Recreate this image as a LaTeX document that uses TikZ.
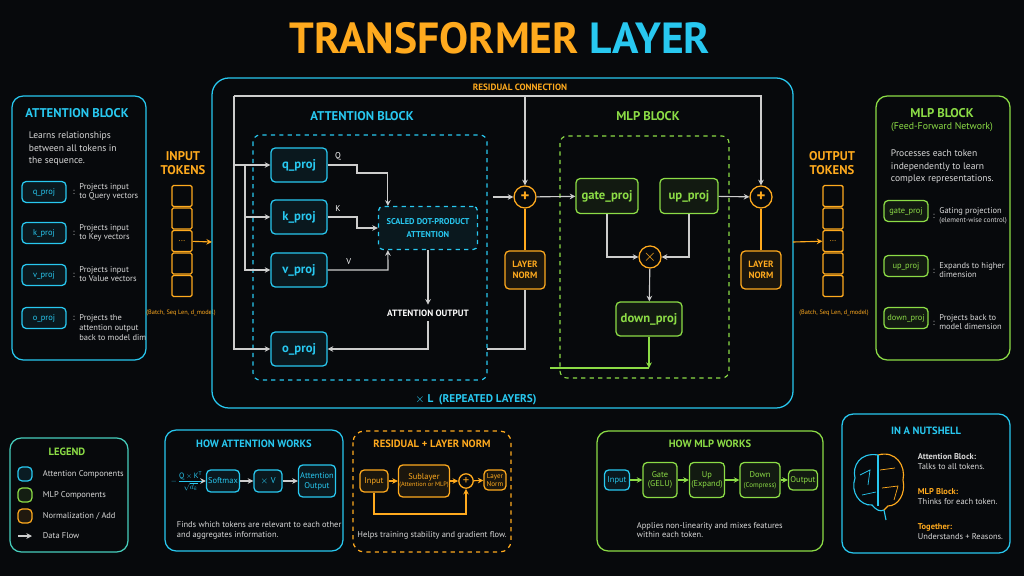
\documentclass[tikz,border=0pt]{standalone}
\usepackage{fontspec}
\setmainfont{PT Sans}
\usetikzlibrary{arrows.meta,positioning,calc}
\tikzset{
    sz/.style 2 args={minimum width=#1*0.025cm, minimum height=#2*0.025cm, inner sep=0pt},
    box/.style={draw, rounded corners=3pt, line width=0.9pt, align=center},
    attn/.style={box, draw=cyanc, text=cyanc, fill=cyanc!8!bgc},
    mlp/.style={box, draw=greenc, text=greenc, fill=greenc!8!bgc},
    norm/.style={box, draw=orangec, text=orangec, fill=orangec!8!bgc},
    panel/.style={draw, rounded corners=8pt, line width=0.9pt},
    flow/.style={-{Stealth[length=4pt,width=4pt]}, draw=linec, line width=0.8pt},
    line/.style={draw=linec, line width=0.8pt},
    title/.style={font=\bfseries\fontsize{9}{10}\selectfont},
    txt/.style={text=white!85!black, font=\fontsize{6.8}{8.8}\selectfont, align=left},
    small/.style={font=\fontsize{6}{7}\selectfont},
    plus/.style={circle, draw=orangec, text=orangec, line width=0.9pt, minimum size=0.55cm, inner sep=0pt, font=\bfseries\large}
}
\begin{document}
\begin{tikzpicture}[x=0.025cm,y=-0.025cm]

  % Define colors
  \definecolor{bgc}{RGB}{7,9,12}
  \definecolor{cyanc}{RGB}{40,200,240}
  \definecolor{greenc}{RGB}{140,220,70}
  \definecolor{orangec}{RGB}{255,170,30}
  \definecolor{linec}{RGB}{205,205,205}

  % Background
  \fill[bgc] (0,0) rectangle (1024,576);
  \useasboundingbox (0,0) rectangle (1024,576);

  % Title
  \node[font=\bfseries\fontsize{31}{36}\selectfont] (title) at (500,38)
    {\textcolor{orangec}{TRANSFORMER} \textcolor{cyanc}{LAYER}};

  % Left panel: attention block
  \draw[panel, cyanc] (12,96) rectangle (146,360);
  \node[title, text=cyanc] (lat) at (77,113) {ATTENTION BLOCK};
  \node[txt, anchor=north west] (ldesc) at (24,127) {Learns relationships\\between all tokens in\\the sequence.};
  \foreach \nm/\y/\ta/\tb in {q\_proj/192/Projects input/to Query vectors,
                               k\_proj/233/Projects input/to Key vectors,
                               v\_proj/275/Projects input/to Value vectors} {
    \node[attn, sz={44}{21}, small] (l\y) at (44,\y) {\nm};
    \node[txt, small, anchor=west] (lt\y) at (68,\y) {:\ \ \begin{tabular}[c]{@{}l@{}}\ta\\\tb\end{tabular}};
  }
  \node[attn, sz={44}{21}, small] (lo) at (44,318) {o\_proj};
  \node[txt, small, anchor=north west] (lot) at (68,309) {:\ \ \begin{tabular}[t]{@{}l@{}}Projects the\\attention output\\back to model dim\end{tabular}};

  % Input tokens
  \node[title, text=orangec, align=center] (inl) at (183,163) {INPUT\\TOKENS};
  \foreach \i in {0,...,4} {
    \node[norm, fill=bgc, rounded corners=1pt, sz={20}{21}] (in\i) at (182,196+\i*22.5) {};
  }
  \node[text=orangec, small] at (in2) {...};
  \node[text=orangec, font=\fontsize{4.5}{5}\selectfont] (inshape) at (181,313) {(Batch, Seq Len, d\_model)};

  % Main transformer layer
  \draw[panel, cyanc, rounded corners=12pt] (212,78) rectangle (793,408);
  \node[title, text=orangec, font=\bfseries\fontsize{6.5}{7}\selectfont] (resl) at (520,87) {RESIDUAL CONNECTION};
  \node[title, text=cyanc] (atitle) at (362,116) {ATTENTION BLOCK};
  \node[title, text=greenc] (mtitle) at (648,116) {MLP BLOCK};
  \draw[cyanc, dashed, line width=0.8pt, rounded corners=5pt] (253,135) rectangle (487,380);
  \draw[greenc, dashed, line width=0.8pt, rounded corners=5pt] (560,136) rectangle (729,378);
  \node[title, text=cyanc, font=\bfseries\fontsize{8}{9}\selectfont] (rep) at (476,400) {$\times$ L \ (REPEATED LAYERS)};

  % Attention nodes
  \node[attn, sz={56}{34}, font=\bfseries\small] (qproj) at (299,165) {q\_proj};
  \node[attn, sz={56}{34}, font=\bfseries\small] (kproj) at (299,217) {k\_proj};
  \node[attn, sz={56}{34}, font=\bfseries\small] (vproj) at (299,270) {v\_proj};
  \node[attn, sz={56}{34}, font=\bfseries\small] (oproj) at (299,349) {o\_proj};
  \node[attn, dashed, sz={99}{43}, font=\bfseries\fontsize{6}{9}\selectfont] (sdpa) at (428,228) {SCALED DOT-PRODUCT\\ATTENTION};
  \node[text=white, font=\bfseries\fontsize{6.5}{7}\selectfont] (aout) at (428,313) {ATTENTION OUTPUT};

  % MLP nodes
  \node[mlp, sz={62}{35}, font=\bfseries\small] (gate) at (607,196) {gate\_proj};
  \node[mlp, sz={58}{35}, font=\bfseries\small] (up) at (689,196) {up\_proj};
  \node[plus, minimum size=0.55cm, font=\large] (mult) at (650,257) {$\times$};
  \node[mlp, sz={66}{34}, font=\bfseries\small] (down) at (649,319) {down\_proj};

  % Add and norm
  \node[plus] (plusA) at (525,197) {+};
  \node[plus] (plusB) at (761,197) {+};
  \node[norm, sz={40}{38}, font=\bfseries\fontsize{6.5}{8}\selectfont] (ln1) at (525,270) {LAYER\\NORM};
  \node[norm, sz={40}{38}, font=\bfseries\fontsize{6.5}{8}\selectfont] (ln2) at (761,270) {LAYER\\NORM};

  % Residual paths
  \coordinate (resL) at (234,96);
  \coordinate (resM) at (525,96);
  \coordinate (split) at (245,165);
  \draw[flow] (resL) -| (plusB);
  \draw[flow] (resM) -- (plusA);
  \draw[flow] (resL) |- (oproj);
  \draw[flow] (234,165) -- (qproj);
  \draw[flow] (split) |- (kproj);
  \draw[flow] (split) |- (vproj);

  % Attention flow
  \draw[flow] (qproj) -- node[above, text=white, small, pos=0.35] {Q} (357,165) -- (357,173) -| ($(sdpa.north west)+(10,0)$);
  \draw[flow] (kproj) -- node[above, text=white, small, pos=0.35] {K} (357,217) |- (sdpa);
  \draw[flow] (vproj) -- node[above, text=white, small, pos=0.35] {V} (388,270) -- ($(sdpa.south west)+(10,0)$);
  \draw[flow] (sdpa) -- (aout);
  \draw[flow] (aout) |- (oproj);
  \draw[line] (487,349) -| (ln1);
  \draw[line, orangec] (ln1) -- (plusA);
  \draw[flow] (493,197) -- (plusA);

  % MLP flow
  \draw[flow] (plusA) -- (gate);
  \draw[flow] (gate) |- (mult);
  \draw[flow] (up) |- (mult);
  \draw[flow] (mult) -- (down);
  \coordinate (mout) at (649,368);
  \draw[flow, draw=greenc] (down) -- (mout);
  \draw[line, greenc] (mout) -- (550,368);
  \draw[flow] (up) -- (plusB);
  \draw[line, orangec] (ln2) -- (plusB);

  % Input and output arrows
  \draw[flow, draw=orangec] (in2) -- (212,242);
  \node[title, text=orangec, align=center] (outl) at (832,163) {OUTPUT\\TOKENS};
  \foreach \i in {0,...,4} {
    \node[norm, fill=bgc, rounded corners=1pt, sz={20}{21}] (out\i) at (833,196+\i*22.5) {};
  }
  \node[text=orangec, small] at (out2) {...};
  \node[text=orangec, font=\fontsize{4.5}{5}\selectfont] (outshape) at (834,313) {(Batch, Seq Len, d\_model)};
  \draw[flow, draw=orangec] (793,242) -- (out2);

  % Right panel: MLP block
  \draw[panel, greenc] (876,96) rectangle (1010,360);
  \node[title, text=greenc, align=center] (rmt) at (942,120) {MLP BLOCK\\[-1pt]{\mdseries\fontsize{7}{8}\selectfont(Feed-Forward Network)}};
  \node[txt, anchor=north west] (rdesc) at (886,145) {Processes each token\\independently to learn\\complex representations.};
  \node[mlp, sz={44}{21}, small] (rg) at (906,211) {gate\_proj};
  \node[txt, small, anchor=west] (rgt) at (928,216) {:\ \ \begin{tabular}[c]{@{}l@{}}Gating projection\\{\fontsize{5}{6}\selectfont(element-wise control)}\end{tabular}};
  \node[mlp, sz={44}{21}, small] (ru) at (906,266) {up\_proj};
  \node[txt, small, anchor=west] (rut) at (928,271) {:\ \ \begin{tabular}[c]{@{}l@{}}Expands to higher\\dimension\end{tabular}};
  \node[mlp, sz={44}{21}, small] (rd) at (906,318) {down\_proj};
  \node[txt, small, anchor=west] (rdt) at (928,323) {:\ \ \begin{tabular}[c]{@{}l@{}}Projects back to\\model dimension\end{tabular}};

  % Legend
  \draw[panel, cyanc!70!greenc] (10,438) rectangle (128,552);
  \node[title, text=greenc, font=\bfseries\fontsize{7.5}{8}\selectfont] (leg) at (67,452) {LEGEND};
  \foreach \c/\t/\y in {cyanc/Attention Components/474, greenc/MLP Components/495, orangec/{Normalization / Add}/516} {
    \node[box, draw=\c, fill=\c!10!bgc, sz={14}{14}] (k\y) at (25,\y) {};
    \node[txt, small, anchor=west] at (38,\y) {\t};
  }
  \coordinate (kf) at (18,536);
  \draw[flow] (kf) -- (32,536);
  \node[txt, small, anchor=west] at (38,536) {Data Flow};

  % How attention works
  \draw[panel, cyanc] (165,430) rectangle (343,551);
  \node[title, text=cyanc, font=\bfseries\fontsize{7.5}{8}\selectfont] (hat) at (254,444) {HOW ATTENTION WORKS};
  \node[text=cyanc, scale=0.55, inner sep=1pt] (frm) at (187,481) {$-\,\displaystyle\frac{\mathrm{Q}\times \mathrm{K}^{\mathrm{T}}}{\sqrt{d_k}}$};
  \node[attn, sz={33}{22}, small] (smax) at (223,481) {Softmax};
  \node[attn, sz={28}{22}, small] (xv) at (268,481) {$\times$ V};
  \node[attn, sz={37}{32}, small] (aoutb) at (317,481) {Attention\\Output};
  \draw[flow] (frm) -- (smax);
  \draw[flow] (smax) -- (xv);
  \draw[flow] (xv) -- (aoutb);
  \node[txt, small, anchor=west] (hatd) at (172,530) {Finds which tokens are relevant to each other\\and aggregates information.};

  % Residual + layer norm
  \draw[panel, orangec, dashed] (353,431) rectangle (511,552);
  \node[title, text=orangec, font=\bfseries\fontsize{7.5}{8}\selectfont] (rlt) at (432,444) {RESIDUAL + LAYER NORM};
  \node[norm, sz={28}{22}, small] (rin) at (374,481) {Input};
  \node[norm, sz={51}{32}, small] (rsub) at (424,481) {Sublayer\\[-2pt]{\fontsize{4.5}{5}\selectfont(Attention or MLP)}};
  \node[plus, minimum size=0.36cm, font=\small] (rplus) at (466,481) {+};
  \node[norm, sz={22}{20}, font=\fontsize{5}{6}\selectfont] (rln) at (495,480) {Layer\\Norm};
  \draw[flow, draw=orangec] (rin) -- (rsub);
  \draw[flow, draw=orangec] (rsub) -- (rplus);
  \draw[flow, draw=orangec] (rplus) -- (rln);
  \draw[flow, draw=orangec] (rin.south) |- (420,514) -| (rplus.south);
  \node[txt, small] (rld) at (432,535) {Helps training stability and gradient flow.};

  % How MLP works
  \draw[panel, greenc] (597,431) rectangle (823,551);
  \node[title, text=greenc, font=\bfseries\fontsize{7.5}{8}\selectfont] (hmt) at (710,444) {HOW MLP WORKS};
  \node[attn, sz={25}{20}, small] (min) at (617,480) {Input};
  \node[mlp, sz={34}{35}, small] (mgate) at (660,480) {Gate\\(GELU)};
  \node[mlp, sz={35}{35}, small] (mup) at (707,480) {Up\\(Expand)};
  \node[mlp, sz={40}{35}, small] (mdown) at (760,480) {Down\\{\fontsize{5}{6}\selectfont(Compress)}};
  \node[mlp, sz={29}{20}, small] (mo) at (803,480) {Output};
  \draw[flow, draw=greenc] (min) -- (mgate);
  \draw[flow, draw=greenc] (mgate) -- (mup);
  \draw[flow, draw=greenc] (mup) -- (mdown);
  \draw[flow, draw=greenc] (mdown) -- (mo);
  \node[txt, small, anchor=west] (hmd) at (632,530) {Applies non-linearity and mixes features\\within each token.};

  % In a nutshell
  \draw[panel, cyanc] (842,414) rectangle (1010,553);
  \node[title, text=cyanc, font=\bfseries\fontsize{7.5}{8}\selectfont] (nut) at (926,431) {IN A NUTSHELL};
  \draw[cyanc, line width=0.8pt] (878,455) .. controls (860,452) and (852,466) .. (855,478)
    .. controls (850,492) and (860,506) .. (872,505) .. controls (876,510) and (880,512) .. (884,510);
  \draw[cyanc, line width=0.8pt] (884,510) -- (886,520);
  \draw[orangec, line width=0.8pt] (878,455) .. controls (896,450) and (906,466) .. (903,480)
    .. controls (906,494) and (898,506) .. (888,506) -- (884,510);
  \draw[cyanc, line width=0.8pt] (878,455) -- (878,506);
  \draw[cyanc, line width=0.5pt] (860,475) -- (870,470) -- (868,485) (862,495) -- (876,492);
  \draw[orangec, line width=0.5pt] (880,470) -- (895,468) (882,488) -- (898,486) -- (894,500);
  \node[txt, small, anchor=north west] (nt1) at (913,449) {\textbf{Attention Block:}\\Talks to all tokens.};
  \node[txt, small, anchor=north west] (nt2) at (913,484) {\textcolor{orangec}{\textbf{MLP Block:}}\\Thinks for each token.};
  \node[txt, small, anchor=north west] (nt3) at (913,519) {\textcolor{orangec}{\textbf{Together:}}\\Understands + Reasons.};

\end{tikzpicture}
\end{document}
